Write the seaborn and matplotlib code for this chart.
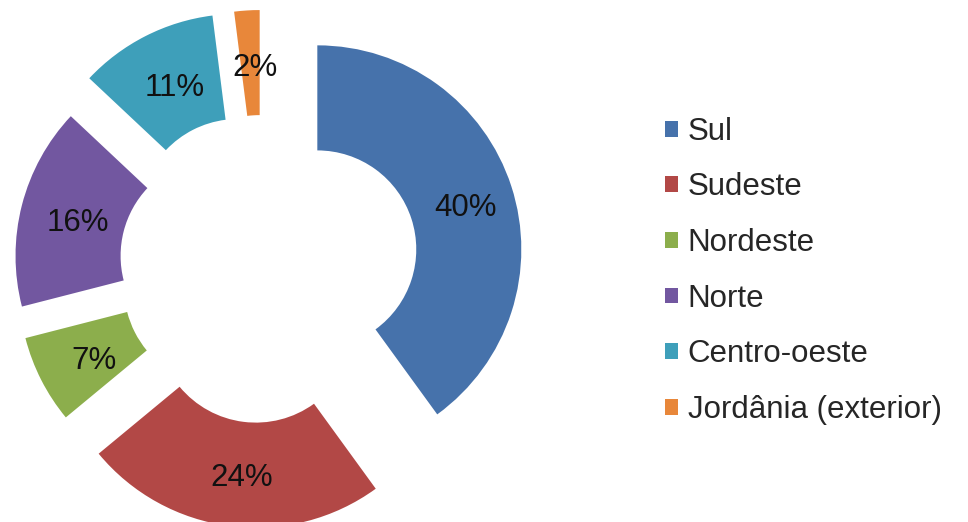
import matplotlib
matplotlib.use("Agg")
import matplotlib.pyplot as plt
import seaborn as sns

# Data
regions = ["Sul", "Sudeste", "Nordeste", "Norte", "Centro-oeste", "Jordânia (exterior)"]
shares = [40, 24, 7, 16, 11, 2]
explode = [0.28, 0.28, 0.22, 0.22, 0.27, 0.26]
colors = ["#4672AB", "#B24846", "#8CAE4C", "#7257A0", "#3E9FBA", "#E8873A"]

sns.set_theme(style="white")
plt.rcParams["font.family"] = ["Liberation Sans", "DejaVu Sans"]

W, H, DPI = 968, 522, 100
fig = plt.figure(figsize=(W / DPI, H / DPI), dpi=DPI)
ax = fig.add_axes([0, 0, 1, 1])

R_PX = 204.0
cx_px, cy_px = 263.0, 522 - 267.0

wedges, texts, autotexts = ax.pie(
    shares,
    explode=explode,
    colors=colors,
    startangle=90,
    counterclock=False,
    radius=1.0,
    wedgeprops=dict(width=0.515, edgecolor="none", linewidth=0),
    autopct=lambda p: f"{p:.0f}%",
    pctdistance=0.74,
    textprops=dict(fontsize=22.5, color="#111111"),
)

# small nudge of labels (right and down) to match the reference placement
for t in autotexts:
    x, y = t.get_position()
    t.set_position((x + 5 / R_PX, y - 5 / R_PX))

ax.set_xlim(-cx_px / R_PX, (W - cx_px) / R_PX)
ax.set_ylim(-cy_px / R_PX, (H - cy_px) / R_PX)
ax.set_aspect("auto")
ax.axis("off")

fig.legend(
    wedges,
    regions,
    loc="center left",
    bbox_to_anchor=(665 / W, 0.481),
    frameon=False,
    fontsize=22.5,
    handlelength=0.4,
    handleheight=0.4,
    handletextpad=0.32,
    labelspacing=0.82,
    borderpad=0,
    borderaxespad=0,
)

fig.savefig("out.png", dpi=DPI)
